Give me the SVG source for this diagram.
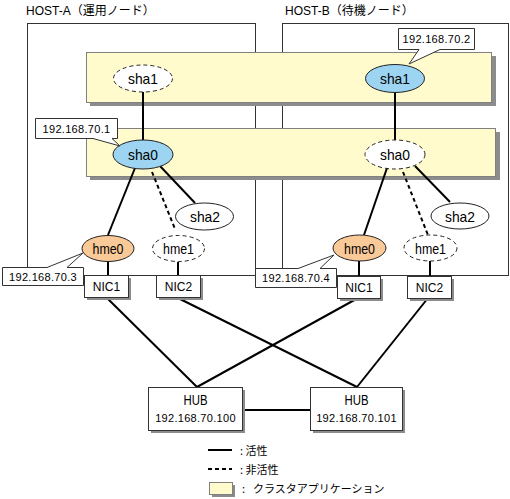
<svg xmlns="http://www.w3.org/2000/svg" width="510" height="499" viewBox="0 0 510 499">
<style>
.host{fill:#fff;stroke:#333;stroke-width:1}
.app{fill:#fffbcc;stroke:#808080;stroke-width:1}
.shadow{fill:#8c8c8c}
.box{fill:#fff;stroke:#333;stroke-width:1}
.el{stroke:#222;stroke-width:1}
.dash{stroke-dasharray:4,3}
.con{stroke:#000;stroke-width:2;fill:none}
.lbl{font-family:"Liberation Sans",Arial,sans-serif;font-size:15px;fill:#000;text-anchor:middle}
.ip{font-family:"Liberation Sans",Arial,sans-serif;font-size:11px;fill:#000;text-anchor:middle;letter-spacing:0.3px}
.nic{font-family:"Liberation Sans",Arial,sans-serif;font-size:12px;fill:#000;text-anchor:middle}
.title{font-family:"Liberation Sans","Noto Sans CJK JP",sans-serif;font-size:12px;fill:#000}
.leg{font-family:"Noto Sans CJK JP",sans-serif;font-size:11px;fill:#000}
</style>
<rect width="510" height="499" fill="#fff"/>
<g id="host-a">
<rect class="host" x="27.5" y="23.5" width="228" height="252"/>
<text class="title" x="26" y="15">HOST-A<tspan font-family="Noto Sans CJK JP">（運用ノード）</tspan></text>
</g>
<g id="host-b">
<rect class="host" x="282.5" y="23.5" width="226" height="252"/>
<text class="title" x="285" y="15">HOST-B<tspan font-family="Noto Sans CJK JP">（待機ノード）</tspan></text>
</g>
<g id="app1">
<rect class="shadow" x="90" y="56" width="406" height="50"/>
<rect class="app" x="86.5" y="52.5" width="405" height="50"/>
</g>
<g id="app2">
<rect class="shadow" x="90" y="132" width="410" height="48"/>
<rect class="app" x="86.5" y="128.5" width="409" height="48"/>
</g>
<g id="connectors">
<path class="con" d="M143,92 V140"/>
<path class="con" d="M395,93 V140"/>
<path class="con" d="M135,168 L108,235"/>
<path class="con dash" d="M152,172 L175,229"/>
<path class="con" d="M160,166 L195,203"/>
<path class="con" d="M108,262 V275"/>
<path class="con" d="M178,262 V275"/>
<path class="con" d="M387,168 L364,235"/>
<path class="con dash" d="M403,172 L428,235"/>
<path class="con" d="M415,166 L450,202"/>
<path class="con" d="M359,261 V276"/>
<path class="con" d="M430,261 V276"/>
<path class="con" d="M107,298 L197,387"/>
<path class="con" d="M178,298 L357,387"/>
<path class="con" d="M358,298 L197,387"/>
<path class="con" d="M428,298 L357,387"/>
<path class="con" d="M242,410 H310"/>
</g>
<g id="sha1-a">
<ellipse class="el dash" cx="143" cy="78.5" rx="29.5" ry="13.5" fill="#fff"/>
<text class="lbl" x="143" y="84" textLength="30" lengthAdjust="spacingAndGlyphs">sha1</text>
</g>
<g id="sha1-b">
<ellipse class="el" cx="395" cy="78.5" rx="29.5" ry="14" fill="#9dd4f2"/>
<text class="lbl" x="395" y="84" textLength="30" lengthAdjust="spacingAndGlyphs">sha1</text>
</g>
<g id="sha0-a">
<ellipse class="el" cx="143" cy="154.5" rx="30" ry="14.5" fill="#9dd4f2"/>
<text class="lbl" x="143" y="160" textLength="30" lengthAdjust="spacingAndGlyphs">sha0</text>
</g>
<g id="sha0-b">
<ellipse class="el dash" cx="395" cy="154.5" rx="30" ry="14.5" fill="#fff"/>
<text class="lbl" x="395" y="160" textLength="30" lengthAdjust="spacingAndGlyphs">sha0</text>
</g>
<g id="sha2-a">
<ellipse class="el" cx="204.5" cy="216.5" rx="29" ry="13.5" fill="#fff"/>
<text class="lbl" x="205" y="222" textLength="30" lengthAdjust="spacingAndGlyphs">sha2</text>
</g>
<g id="sha2-b">
<ellipse class="el" cx="460" cy="216" rx="29" ry="13" fill="#fff"/>
<text class="lbl" x="460" y="221.5" textLength="30" lengthAdjust="spacingAndGlyphs">sha2</text>
</g>
<g id="hme0-a">
<ellipse class="el" cx="108" cy="248.5" rx="26" ry="13" fill="#f9c998"/>
<text class="lbl" x="108" y="254" textLength="31" lengthAdjust="spacingAndGlyphs">hme0</text>
</g>
<g id="hme1-a">
<ellipse class="el dash" cx="178.5" cy="248.5" rx="26" ry="13" fill="#fff"/>
<text class="lbl" x="178.5" y="254" textLength="31" lengthAdjust="spacingAndGlyphs">hme1</text>
</g>
<g id="hme0-b">
<ellipse class="el" cx="359.5" cy="248" rx="26.5" ry="13" fill="#f9c998"/>
<text class="lbl" x="359.5" y="253.5" textLength="31" lengthAdjust="spacingAndGlyphs">hme0</text>
</g>
<g id="hme1-b">
<ellipse class="el dash" cx="430.5" cy="248" rx="26.5" ry="13" fill="#fff"/>
<text class="lbl" x="430.5" y="253.5" textLength="31" lengthAdjust="spacingAndGlyphs">hme1</text>
</g>
<g id="ip-sha1-b">
<path class="box" d="M398.5,28.5 H474.5 V49.5 H440 L409,64 L419,49.5 H398.5 Z"/>
<text class="ip" x="436.5" y="43">192.168.70.2</text>
</g>
<g id="ip-sha0-a">
<path class="box" d="M35.5,118.5 H117.5 V138.5 H112 L120,146 L93,138.5 H35.5 Z"/>
<text class="ip" x="76.5" y="132.5">192.168.70.1</text>
</g>
<g id="ip-hme0-a">
<path class="box" d="M2.5,267.5 H47 L83,253 L67,267.5 H83.5 V285.5 H2.5 Z"/>
<text class="ip" x="43" y="280.5">192.168.70.3</text>
</g>
<g id="ip-hme0-b">
<path class="box" d="M255.5,268.5 H298 L334,255 L320,268.5 H336.5 V287.5 H255.5 Z"/>
<text class="ip" x="296" y="282">192.168.70.4</text>
</g>
<g id="nic1-a">
<rect class="shadow" x="87" y="278" width="44" height="22"/>
<rect class="box" x="84.5" y="275.5" width="44" height="22"/>
<text class="nic" x="106.5" y="291">NIC1</text>
</g>
<g id="nic2-a">
<rect class="shadow" x="159" y="278" width="44" height="22"/>
<rect class="box" x="156.5" y="275.5" width="44" height="22"/>
<text class="nic" x="178.5" y="291">NIC2</text>
</g>
<g id="nic1-b">
<rect class="shadow" x="340" y="279" width="43" height="22"/>
<rect class="box" x="337.5" y="276.5" width="43" height="22"/>
<text class="nic" x="359" y="292">NIC1</text>
</g>
<g id="nic2-b">
<rect class="shadow" x="410" y="279" width="44" height="22"/>
<rect class="box" x="407.5" y="276.5" width="44" height="22"/>
<text class="nic" x="429.5" y="292">NIC2</text>
</g>
<g id="hub1">
<rect class="shadow" x="151" y="390" width="94" height="43"/>
<rect class="box" x="148.5" y="387.5" width="94" height="43"/>
<text class="lbl" x="195.5" y="405" font-size="17" textLength="24" lengthAdjust="spacingAndGlyphs">HUB</text>
<text class="ip" x="195.5" y="422">192.168.70.100</text>
</g>
<g id="hub2">
<rect class="shadow" x="313" y="390" width="92" height="43"/>
<rect class="box" x="310.5" y="387.5" width="92" height="43"/>
<text class="lbl" x="356.5" y="405" font-size="17" textLength="24" lengthAdjust="spacingAndGlyphs">HUB</text>
<text class="ip" x="356.5" y="422">192.168.70.101</text>
</g>
<g id="legend">
<path class="con" d="M208,450 H232"/>
<text class="leg" x="240" y="454.5">: 活性</text>
<path class="con dash" d="M208,469 H232"/>
<text class="leg" x="240" y="473.5">: 非活性</text>
<rect class="shadow" x="212" y="485" width="23" height="12"/>
<rect class="app" x="209.5" y="482.5" width="23" height="12"/>
<text class="leg" x="242" y="492.5">:<tspan x="253">クラスタアプリケーション</tspan></text>
</g>
</svg>
